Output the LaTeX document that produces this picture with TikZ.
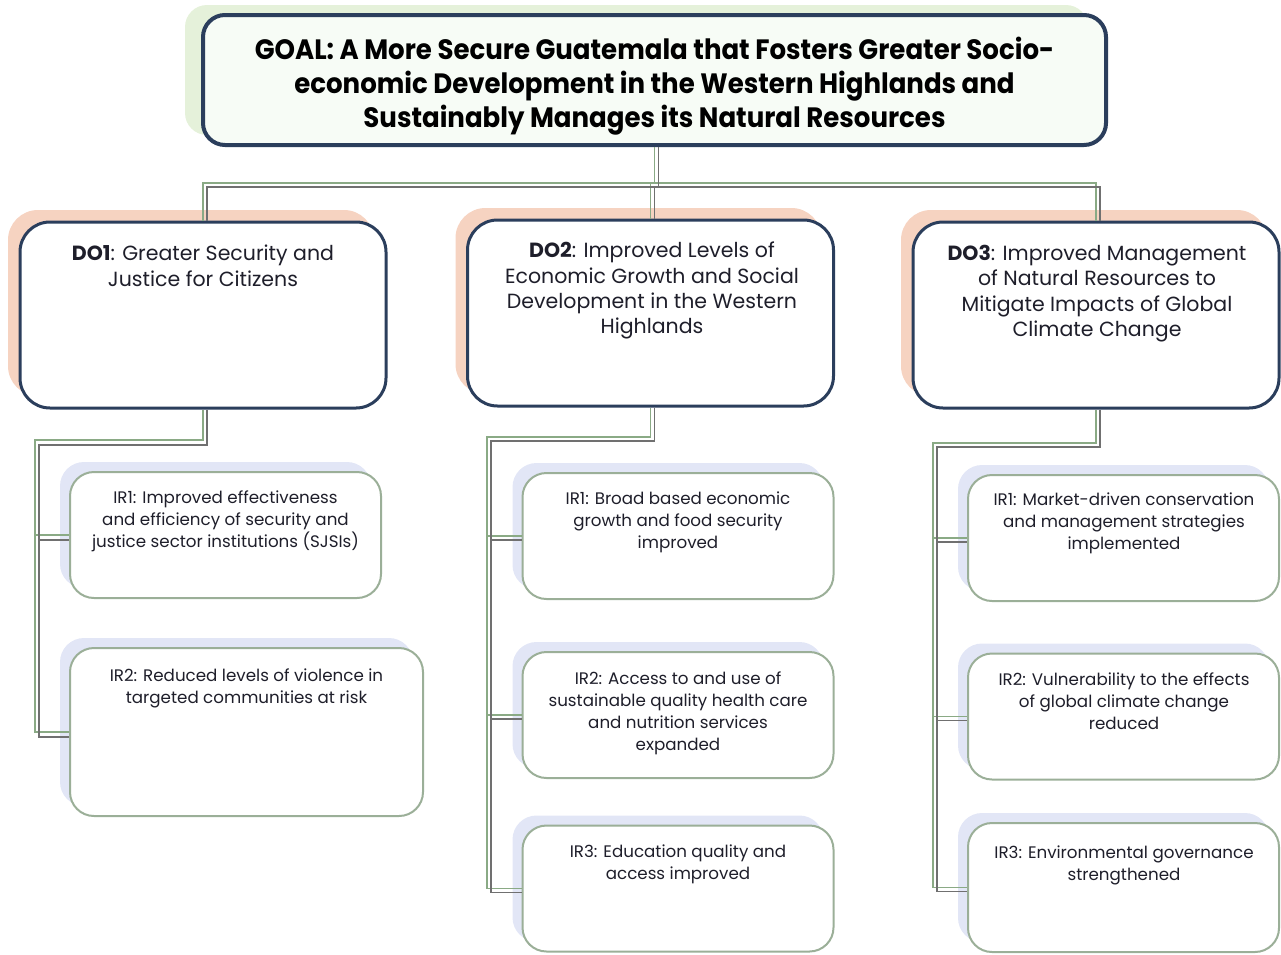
\documentclass[tikz,border=0pt]{standalone}
\usepackage{fontspec}
\setmainfont{Poppins}
\newfontfamily\goalfont{Poppins}[FakeStretch=0.93]
\usepackage{xcolor}
\usepackage{tikz}
\usetikzlibrary{shadows}
\definecolor{navy}{HTML}{2B3E5C}
\definecolor{goalfill}{HTML}{F7FCF6}
\definecolor{goalshade}{HTML}{E5F1DA}
\definecolor{doshade}{HTML}{F6D3C1}
\definecolor{irline}{HTML}{9BAF98}
\definecolor{irshade}{HTML}{E2E6F6}
\definecolor{linkgreen}{HTML}{8AAA85}
\definecolor{linkgray}{HTML}{707070}
\definecolor{txt}{HTML}{1E1E2A}

\begin{document}
\begin{tikzpicture}[x=1pt,y=-1pt,
  goalbox/.style={draw=navy, line width=4pt, fill=goalfill, rounded corners=22pt,
    minimum width=903pt, minimum height=130pt, inner sep=0pt,
    copy shadow={shadow xshift=-18pt, shadow yshift=10pt, fill=goalshade, draw=none}},
  dobox/.style={draw=navy, line width=3pt, fill=white, rounded corners=30pt,
    minimum width=366pt, minimum height=186pt, inner sep=0pt,
    copy shadow={shadow xshift=-12pt, shadow yshift=12pt, fill=doshade, draw=none}},
  irbox/.style={draw=irline, line width=2pt, fill=white, rounded corners=24pt,
    minimum width=311pt, minimum height=126pt, inner sep=0pt,
    copy shadow={shadow xshift=-10pt, shadow yshift=10pt, fill=irshade, draw=none}},
  goaltext/.style={anchor=north, align=center, inner sep=0pt, text=black,
    font=\goalfont\bfseries\fontsize{28}{34}\selectfont},
  dotext/.style={anchor=north, align=center, inner sep=0pt, text=txt,
    font=\fontsize{20.5}{25.3}\selectfont},
  irtext/.style={anchor=north, align=center, inner sep=0pt, text=txt,
    font=\fontsize{16.7}{22}\selectfont},
  link/.style={draw=linkgreen, line width=1.2pt},
  link2/.style={draw=linkgray, line width=1.2pt}]
\useasboundingbox (0,0) rectangle (1281,954);

\node [goalbox] (goal) at (654.5,80) {};
\node [goaltext] (goal-t) at (654.5,37) {GOAL: A More Secure Guatemala that Fosters Greater Socio-\\economic Development in the Western Highlands and\\Sustainably Manages its Natural Resources};

\node [dobox] (do1) at (203,315) {};
\node [dobox] (do2) at (650.5,313) {};
\node [dobox] (do3) at (1096,315) {};
\node [dotext] (do1-t) at (203,245) {\textbf{DO1}: Greater Security and\\Justice for Citizens};
\node [dotext] (do2-t) at (652,242) {\textbf{DO2}: Improved Levels of\\Economic Growth and Social\\Development in the Western\\Highlands};
\node [dotext] (do3-t) at (1097,245) {\textbf{DO3}: Improved Management\\of Natural Resources to\\Mitigate Impacts of Global\\Climate Change};

\node [irbox] (ir11) at (225.5,535) {};
\node [irbox, minimum width=353pt, minimum height=168pt] (ir12) at (246.5,732) {};
\node [irbox] (ir21) at (678,536) {};
\node [irbox] (ir22) at (678,715) {};
\node [irbox] (ir23) at (678,888.5) {};
\node [irbox] (ir31) at (1123.5,538) {};
\node [irbox] (ir32) at (1123.5,716.5) {};
\node [irbox, minimum height=129pt] (ir33) at (1123.5,887.5) {};

\node [irtext] (ir11-t) at (225.5,490.5) {IR1: Improved effectiveness\\and efficiency of security and\\justice sector institutions (SJSIs)};
\node [irtext] (ir12-t) at (246.5,668.5) {IR2: Reduced levels of violence in\\targeted communities at risk};
\node [irtext] (ir21-t) at (678,491.5) {IR1: Broad based economic\\growth and food security\\improved};
\node [irtext] (ir22-t) at (678,671.5) {IR2: Access to and use of\\sustainable quality health care\\and nutrition services\\expanded};
\node [irtext] (ir23-t) at (678,844.5) {IR3: Education quality and\\access improved};
\node [irtext] (ir31-t) at (1124,492.5) {IR1: Market-driven conservation\\and management strategies\\implemented};
\node [irtext] (ir32-t) at (1124,672.5) {IR2: Vulnerability to the effects\\of global climate change\\reduced};
\node [irtext] (ir33-t) at (1124,845.5) {IR3: Environmental governance\\strengthened};

\coordinate (hub) at (654.5,183);
\coordinate (t1) at (35,440);
\coordinate (t2) at (487,437);
\coordinate (t3) at (933,443);

\draw [link] (goal.south) -- (hub) -| (do1.north);
\draw [link] (hub) -| (do2.north);
\draw [link] (hub) -| (do3.north);
\draw [link2] ([xshift=4pt]goal.south) |- ([shift={(4,4)}]hub) -| ([xshift=4pt]do1.north);
\draw [link2] ([shift={(4,4)}]hub) -| ([xshift=4pt]do2.north);
\draw [link2] ([shift={(4,4)}]hub) -| ([xshift=4pt]do3.north);

\draw [link] (do1.south) |- (t1) |- (ir11.west);
\draw [link] (t1) |- (ir12.west);
\draw [link2] ([xshift=4pt]do1.south) |- ([shift={(4,5)}]t1) |- ([yshift=-5pt]ir11.west);
\draw [link2] ([shift={(4,5)}]t1) |- ([yshift=-5pt]ir12.west);

\draw [link] (do2.south) |- (t2) |- (ir21.west);
\draw [link] (t2) |- (ir22.west);
\draw [link] (t2) |- (ir23.west);
\draw [link2] ([xshift=4pt]do2.south) |- ([shift={(4,4)}]t2) |- ([yshift=-4pt]ir21.west);
\draw [link2] ([shift={(4,4)}]t2) |- ([yshift=-4pt]ir22.west);
\draw [link2] ([shift={(4,4)}]t2) |- ([yshift=-4pt]ir23.west);

\draw [link] (do3.south) |- (t3) |- (ir31.west);
\draw [link] (t3) |- (ir32.west);
\draw [link] (t3) |- (ir33.west);
\draw [link2] ([xshift=4pt]do3.south) |- ([shift={(4,4)}]t3) |- ([yshift=-4pt]ir31.west);
\draw [link2] ([shift={(4,4)}]t3) |- ([yshift=-4pt]ir32.west);
\draw [link2] ([shift={(4,4)}]t3) |- ([yshift=-4pt]ir33.west);
\end{tikzpicture}
\end{document}
